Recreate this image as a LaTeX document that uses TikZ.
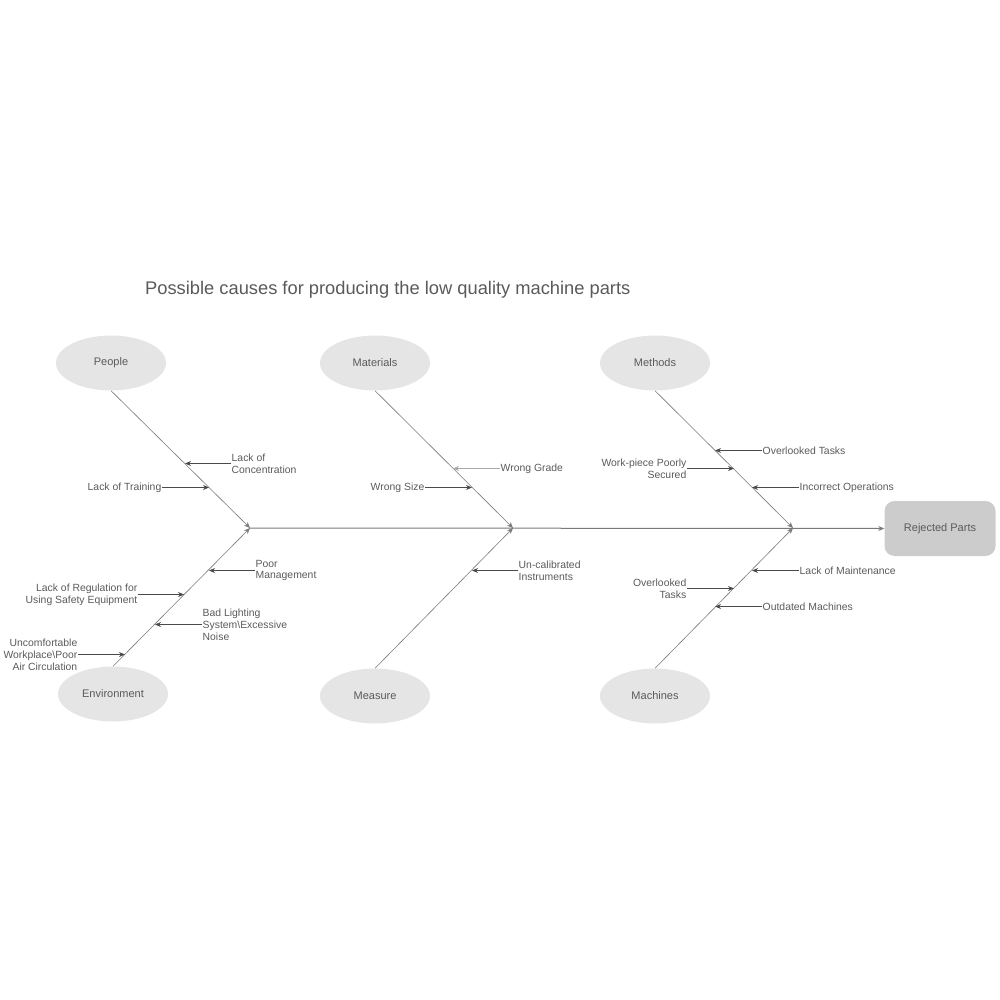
\documentclass[tikz,border=0pt]{standalone}
\usepackage{fontspec}
\setmainfont{Liberation Sans}
\usepackage{xcolor}
\usetikzlibrary{shapes,arrows.meta,positioning}

\definecolor{txtgray}{HTML}{5A5A5A}
\definecolor{bonegray}{HTML}{7A7A7A}
\definecolor{subgray}{HTML}{4A4A4A}
\definecolor{lightgray}{HTML}{A8A8A8}

\begin{document}
\begin{tikzpicture}[x=1pt, y=-1pt, font=\fontsize{10.4}{11.8}\selectfont]
    % Styles
    \tikzstyle{cause} = [ellipse, fill=gray!20, minimum width=110pt, minimum height=55pt, text=txtgray, inner sep=0pt, font=\fontsize{11}{13}\selectfont]
    \tikzstyle{effect} = [rectangle, fill=gray!40, rounded corners=10pt, minimum width=111pt, minimum height=55pt, text=txtgray, font=\fontsize{11}{13}\selectfont]
    \tikzstyle{label} = [text=txtgray, inner sep=0.5pt]
    \tikzstyle{bone} = [draw=bonegray, line width=0.6pt, -{Stealth[length=6pt,width=5pt]}]
    \tikzstyle{spine} = [draw=bonegray, line width=1pt, -{Stealth[length=6pt,width=5pt]}]
    \tikzstyle{sub} = [draw=subgray, line width=0.9pt, -{Stealth[length=6pt,width=5pt]}]

    \useasboundingbox (0,0) rectangle (1000,1000);

    % Title
    \node [text=txtgray, anchor=west, inner sep=0pt, font=\fontsize{18.3}{20}\selectfont] (title) at (145,290) {Possible causes for producing the low quality machine parts};

    % Nodes
    \node [cause] (people) at (111,363) {People};
    \node [cause] (materials) at (375,363) {Materials};
    \node [cause] (methods) at (655,363) {Methods};
    \node [cause] (environment) at (113,694) {Environment};
    \node [cause] (measure) at (375,696) {Measure};
    \node [cause] (machines) at (655,696) {Machines};
    \node [effect] (rejected) at (940,528.5) {Rejected Parts};

    % Junctions on the spine
    \coordinate (j1) at (250,528);
    \coordinate (j2) at (513,528);
    \coordinate (j3) at (793,528);

    % Sub-cause labels
    \node [label, anchor=west, align=left] (concentration) at (231,463.5) {Lack of\\Concentration};
    \node [label, anchor=east] (training) at (162,487.5) {Lack of Training};
    \node [label, anchor=west, align=left] (management) at (255,570.5) {Poor\\Management};
    \node [label, anchor=east, align=right] (regulation) at (138,594.5) {Lack of Regulation for\\Using Safety Equipment};
    \node [label, anchor=west, align=left] (lighting) at (202,624.5) {Bad Lighting\\System\textbackslash Excessive\\Noise};
    \node [label, anchor=east, align=right] (workplace) at (78,654.5) {Uncomfortable\\Workplace\textbackslash Poor\\Air Circulation};
    \node [label, anchor=west] (grade) at (500,468.5) {Wrong Grade};
    \node [label, anchor=east] (size) at (425,487.5) {Wrong Size};
    \node [label, anchor=west, align=left] (instruments) at (518,570.5) {Un-calibrated\\Instruments};
    \node [label, anchor=west] (overlooked) at (762,450.5) {Overlooked Tasks};
    \node [label, anchor=east, align=right] (workpiece) at (687,468.5) {Work-piece Poorly\\Secured};
    \node [label, anchor=west] (operations) at (799,487.5) {Incorrect Operations};
    \node [label, anchor=west] (maintenance) at (799,570.5) {Lack of Maintenance};
    \node [label, anchor=east, align=right] (tasks) at (687,588.5) {Overlooked\\Tasks};
    \node [label, anchor=west] (outdated) at (762,606.5) {Outdated Machines};

    % Points on the bones
    \coordinate (p1) at (185,463.5);
    \coordinate (p2) at (209,487.5);
    \coordinate (e1) at (209,570.5);
    \coordinate (e2) at (184,594.5);
    \coordinate (e3) at (155,624.5);
    \coordinate (e4) at (125,654.5);
    \coordinate (m1) at (453,468.5);
    \coordinate (m2) at (472,487.5);
    \coordinate (s1) at (472,570.5);
    \coordinate (t1) at (715,450.5);
    \coordinate (t2) at (734,468.5);
    \coordinate (t3) at (752,487.5);
    \coordinate (c1) at (752,570.5);
    \coordinate (c2) at (734,588.5);
    \coordinate (c3) at (715,606.5);

    % Edges
    \path [spine] (j1) -- (rejected.west);
    \path [bone] (people.south) -- (j1);
    \path [bone] (environment.north) -- (j1);
    \path [bone] (materials.south) -- (j2);
    \path [bone] (measure.north) -- (j2);
    \path [bone] (methods.south) -- (j3);
    \path [bone] (machines.north) -- (j3);

    \path [sub] (concentration.west) -- (p1);
    \path [sub] (training.east) -- (p2);
    \path [sub] (management.west) -- (e1);
    \path [sub] (regulation.east) -- (e2);
    \path [sub] (lighting.west) -- (e3);
    \path [sub] (workplace.east) -- (e4);
    \path [sub, draw=lightgray] (grade.west) -- (m1);
    \path [sub] (size.east) -- (m2);
    \path [sub] (instruments.west) -- (s1);
    \path [sub] (overlooked.west) -- (t1);
    \path [sub] (workpiece.east) -- (t2);
    \path [sub] (operations.west) -- (t3);
    \path [sub] (maintenance.west) -- (c1);
    \path [sub] (tasks.east) -- (c2);
    \path [sub] (outdated.west) -- (c3);
\end{tikzpicture}
\end{document}
